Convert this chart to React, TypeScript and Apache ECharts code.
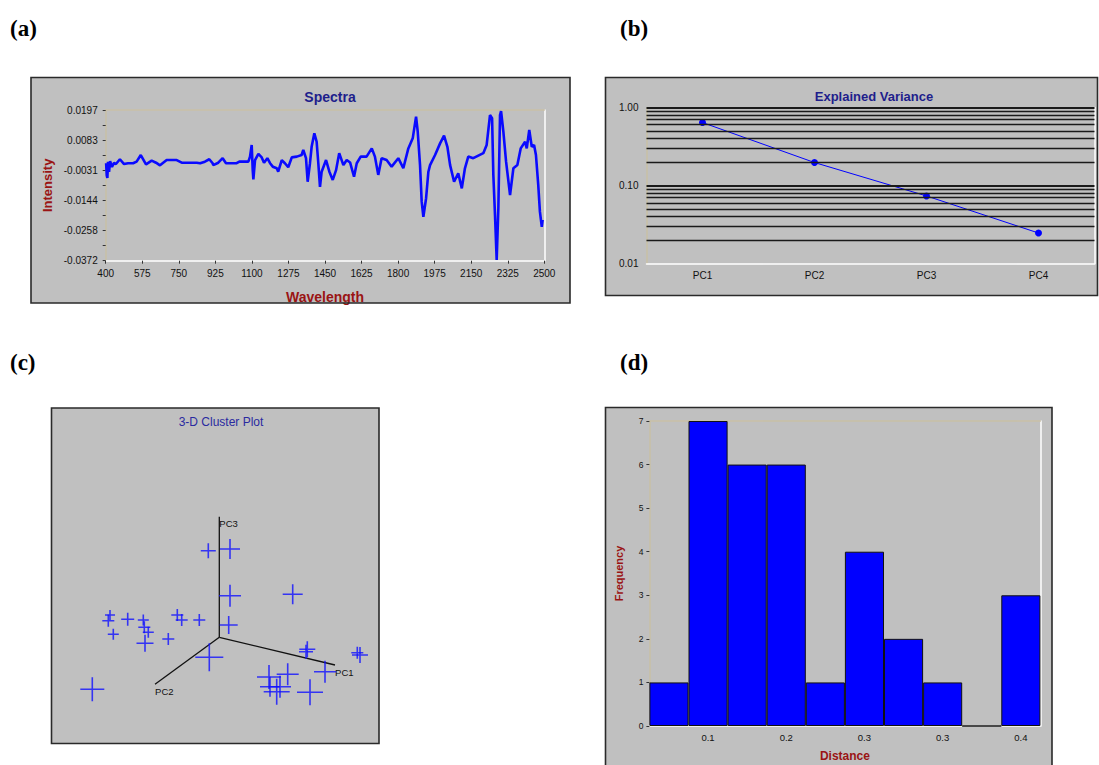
import React, { useEffect, useRef } from "react";
import * as echarts from "echarts";

// ---------- (a) Spectra ----------
const wavelengths = [
  402, 405, 408, 411, 416, 421, 430, 440, 449, 468, 488, 507, 531, 548, 568, 593, 620, 641, 660, 692,
  740, 764, 836, 852, 875, 896, 912, 915, 939, 960, 976, 1027, 1040, 1083, 1091, 1099, 1104, 1107, 1115,
  1131, 1147, 1158, 1174, 1187, 1200, 1219, 1226, 1243, 1258, 1274, 1291, 1315, 1338, 1346, 1359, 1367,
  1378, 1386, 1399, 1410, 1418, 1426, 1434, 1455, 1471, 1487, 1503, 1518, 1538, 1554, 1570, 1589, 1602,
  1621, 1649, 1674, 1689, 1705, 1721, 1745, 1769, 1801, 1825, 1849, 1870, 1886, 1894, 1905, 1913, 1921,
  1934, 1945, 1953, 1977, 2001, 2020, 2036, 2049, 2068, 2088, 2105, 2120, 2136, 2160, 2208, 2224, 2240,
  2250, 2256, 2264, 2272, 2280, 2288, 2293, 2304, 2317, 2336, 2352, 2371, 2387, 2408, 2416, 2428, 2440,
  2451, 2460, 2471, 2479, 2488, 2492,
];
const intensities = [
  -0.0004, -0.005, -0.006, 0.0001, -0.0037, 0.0004, -0.0018, -0.0003, -0.0007, 0.0011, -0.0007, -0.0004,
  -0.0004, 0.0002, 0.0027, -0.0008, 0.0006, -0.0002, -0.0012, 0.0008, 0.0008, -0.0002, -0.0002, -0.0004,
  0.0002, 0.0011, -0.0004, -0.0011, -0.0002, 0.0015, -0.0004, -0.0004, 0.0002, 0.0002, 0.0021, 0.0065,
  -0.003, -0.0065, 0.0008, 0.0031, 0.0018, -0.0002, 0.0015, -0.0004, -0.0017, -0.0023, -0.0036, 0.0008,
  -0.0004, -0.0019, 0.0018, 0.0021, 0.0027, 0.0046, 0.0015, -0.0074, -0.0004, 0.0058, 0.0109, 0.0077,
  -0.0004, -0.0093, -0.0036, 0.0008, -0.0036, -0.0067, -0.003, 0.0034, -0.0011, 0.0008, -0.0001, -0.0055,
  -0.0004, 0.0021, 0.0021, 0.0052, 0.0021, -0.0048, 0.0015, 0.0008, -0.0017, 0.0015, -0.0023, 0.0052,
  0.009, 0.0172, 0.0115, -0.0011, -0.0149, -0.0206, -0.0136, -0.0036, -0.0011, 0.0027, 0.0071, 0.01,
  0.0058, -0.0011, -0.0074, -0.0042, -0.0099, -0.0023, 0.0021, 0.0015, 0.0034, 0.0065, 0.0178, 0.0166,
  -0.0048, -0.02, -0.0369, -0.0174, 0.0178, 0.0193, 0.0115, 0.0002, -0.0124, -0.0023, -0.0011, 0.0052,
  0.0077, 0.0052, 0.0122, 0.0058, 0.0065, 0.0027, -0.0086, -0.0187, -0.0244, -0.0218,
];
const intensityLabelTicks = [-0.0372, -0.0258, -0.0144, -0.0031, 0.0083, 0.0197];
const intensityAllTicks = [
  -0.0372, -0.0315, -0.0258, -0.0201, -0.0144, -0.0087, -0.0031, 0.0026, 0.0083, 0.014, 0.0197,
];
const wavelengthTicks = [400, 575, 750, 925, 1100, 1275, 1450, 1625, 1800, 1975, 2150, 2325, 2500];

// ---------- (b) Explained Variance ----------
const pcNames = ["PC1", "PC2", "PC3", "PC4"];
const explainedVariance = [0.64, 0.197, 0.0736, 0.0247];
const varianceGridLines = [
  0.02, 0.03, 0.04, 0.05, 0.06, 0.07, 0.08, 0.09, 0.1, 0.2, 0.3, 0.4, 0.5, 0.6, 0.7, 0.8, 0.9, 1.0,
];

// ---------- (c) 3-D Cluster Plot (projected screen coordinates) ----------
const clusterX = [
  156.3, 178, 178, 240.7, 176.7, 58, 56.3, 75.7, 91.3, 92.3, 96.3, 61.3, 93, 116.3, 125.3, 129.7, 147.3,
  157.3, 40.3, 255.3, 254, 308, 305.3, 273, 217, 218, 228, 235.7, 224.7, 258,
];
const clusterY = [
  192.3, 194, 147.3, 148.7, 118, 128, 122.3, 123.7, 123, 115.7, 110.7, 108.7, 99.7, 104, 128, 123, 123,
  85.7, 53.7, 93.7, 91.3, 88, 90.3, 71.3, 66, 56.3, 56.3, 68.7, 51.3, 50.7,
];
const clusterSize = [
  15, 20, 22, 20, 18, 10, 12, 13, 11, 12, 11, 11, 17, 12, 12, 12, 12, 28, 24, 16, 14, 16, 12, 22, 24, 20,
  22, 22, 26, 26,
];
const axisOrigin = [167.3, 105.7];
const axisNames = ["PC1", "PC2", "PC3"];
const axisEndX = [283, 103, 167.3];
const axisEndY = [78, 58.7, 226.3];

// ---------- (d) Histogram ----------
const distanceLabels = ["", "0.1", "", "0.2", "", "0.3", "", "0.3", "", "0.4"];
const frequencies = [1, 7, 6, 6, 1, 4, 2, 1, 0, 3];

const FONT = "'Liberation Sans', Arial, Helvetica, sans-serif";
const TITLE_COLOR = "#1e1e8c";
const NAME_COLOR = "#9a1414";
const PANEL_BG = "#c0c0c0";
const FRAME_DARK = "#c9c0a6";

export default function App() {
  const ref = useRef<HTMLDivElement>(null);

  useEffect(() => {
    if (!ref.current) return;
    const chart = echarts.init(ref.current, undefined, { renderer: "svg" });

    const boxes = [
      { x: 31, y: 77.5, w: 539, h: 225.5 },
      { x: 605.5, y: 77.5, w: 492, h: 218 },
      { x: 51.5, y: 408, w: 327.5, h: 335.5 },
      { x: 605.5, y: 407.5, w: 446.5, h: 380 },
    ];
    const panelLabels = [
      { t: "(a)", x: 10, y: 28 },
      { t: "(b)", x: 620, y: 28 },
      { t: "(c)", x: 10, y: 362 },
      { t: "(d)", x: 620, y: 362 },
    ];

    const graphic: any[] = [];
    boxes.forEach((b) => {
      graphic.push({
        type: "rect",
        z: -100,
        shape: { x: b.x, y: b.y, width: b.w, height: b.h },
        style: { fill: PANEL_BG, stroke: "none" },
        silent: true,
      });
      graphic.push({
        type: "rect",
        z: 100,
        shape: { x: b.x, y: b.y, width: b.w, height: b.h },
        style: { fill: "none", stroke: "#2a2a2a", lineWidth: 1.6 },
        silent: true,
      });
    });
    panelLabels.forEach((p) => {
      graphic.push({
        type: "text",
        x: p.x,
        y: p.y,
        style: {
          text: p.t,
          font: "bold 23px 'Liberation Serif', 'Times New Roman', serif",
          fill: "#000",
          verticalAlign: "middle",
          align: "left",
        },
      });
    });

    const clusterData = clusterX.map((x, i) => [x, clusterY[i], clusterSize[i]]);
    const axisSeries = axisNames.map((name, i) => ({
      type: "line",
      xAxisIndex: 3,
      yAxisIndex: 4,
      symbol: "none",
      lineStyle: { color: "#111", width: 1.3 },
      data: [
        axisOrigin,
        {
          value: [axisEndX[i], axisEndY[i]],
          symbol: "circle",
          symbolSize: 0.1,
          label: {
            show: true,
            formatter: name,
            position: "right",
            distance: 0,
            offset: [0, 7],
            fontSize: 9.5,
            fontFamily: FONT,
            color: "#111",
          },
        },
      ],
      z: 3,
    }));

    const option: any = {
      animation: false,
      backgroundColor: "#ffffff",
      textStyle: { fontFamily: FONT },
      graphic,
      title: [
        {
          text: "Spectra",
          left: 325,
          top: 85,
          textAlign: "center",
          textStyle: { fontSize: 14, fontWeight: "bold", color: TITLE_COLOR, fontFamily: FONT },
        },
        {
          text: "Explained Variance",
          left: 869,
          top: 85,
          textAlign: "center",
          textStyle: { fontSize: 13, fontWeight: "bold", color: TITLE_COLOR, fontFamily: FONT },
        },
        {
          text: "3-D Cluster Plot",
          left: 216,
          top: 411,
          textAlign: "center",
          textStyle: { fontSize: 12, fontWeight: "normal", color: "#2a2aa0", fontFamily: FONT },
        },
      ],
      grid: [
        { left: 105.7, top: 110, width: 438.6, height: 150.7 },
        { left: 646.5, top: 107.4, width: 448, height: 156.3 },
        { left: 52, top: 409, width: 326, height: 334 },
        { left: 649.4, top: 421, width: 391, height: 305 },
      ],
      xAxis: [
        {
          gridIndex: 0,
          type: "value",
          min: 400,
          max: 2500,
          name: "Wavelength",
          nameLocation: "middle",
          nameGap: 29,
          nameTextStyle: { color: NAME_COLOR, fontWeight: "bold", fontSize: 14, fontFamily: FONT },
          axisLine: { onZero: false, lineStyle: { color: "#ffffff", width: 1.5 } },
          axisTick: {
            customValues: wavelengthTicks,
            length: 3,
            lineStyle: { color: "#333" },
          },
          axisLabel: {
            customValues: wavelengthTicks,
            formatter: (v: number) => String(v),
            fontSize: 10,
            color: "#111",
            margin: 8,
            fontFamily: FONT,
          },
          splitLine: { show: false },
        },
        {
          gridIndex: 0,
          type: "value",
          position: "top",
          min: 0,
          max: 1,
          axisLine: { show: true, onZero: false, lineStyle: { color: FRAME_DARK, width: 1.5 } },
          axisTick: { show: false },
          axisLabel: { show: false },
          splitLine: { show: false },
        },
        {
          gridIndex: 1,
          type: "category",
          data: pcNames,
          boundaryGap: true,
          axisLine: { onZero: false, lineStyle: { color: "#ffffff", width: 1.5 } },
          axisTick: { alignWithLabel: true, length: 3, lineStyle: { color: "#333" } },
          axisLabel: { fontSize: 10, color: "#111", margin: 7, fontFamily: FONT },
          splitLine: { show: false },
        },
        {
          gridIndex: 2,
          type: "value",
          min: 0,
          max: 326,
          show: false,
        },
        {
          gridIndex: 3,
          type: "category",
          data: distanceLabels.map((_, i) => "bin" + (i + 1)),
          boundaryGap: true,
          name: "Distance",
          nameLocation: "middle",
          nameGap: 24,
          nameTextStyle: { color: NAME_COLOR, fontWeight: "bold", fontSize: 12, fontFamily: FONT },
          axisLine: { onZero: false, lineStyle: { color: "#ffffff", width: 1.5 } },
          axisTick: {
            alignWithLabel: true,
            interval: (i: number) => i % 2 === 0,
            length: 2,
            lineStyle: { color: "#333" },
          },
          axisLabel: {
            interval: 0,
            formatter: (_v: string, i: number) => distanceLabels[i],
            fontSize: 9.5,
            color: "#111",
            margin: 6,
            fontFamily: FONT,
          },
          splitLine: { show: false },
        },
        {
          gridIndex: 3,
          type: "value",
          position: "top",
          min: 0,
          max: 1,
          axisLine: { show: true, onZero: false, lineStyle: { color: FRAME_DARK, width: 1.5 } },
          axisTick: { show: false },
          axisLabel: { show: false },
          splitLine: { show: false },
        },
      ],
      yAxis: [
        {
          gridIndex: 0,
          type: "value",
          min: -0.0372,
          max: 0.0197,
          name: "Intensity",
          nameLocation: "middle",
          nameGap: 52,
          nameTextStyle: { color: NAME_COLOR, fontWeight: "bold", fontSize: 13, fontFamily: FONT },
          axisLine: { show: true, onZero: false, lineStyle: { color: FRAME_DARK, width: 1.5 } },
          axisTick: {
            show: true,
            customValues: intensityAllTicks,
            length: 3,
            lineStyle: { color: "#333" },
          },
          axisLabel: {
            customValues: intensityLabelTicks,
            formatter: (v: number) => v.toFixed(4),
            fontSize: 10,
            color: "#111",
            margin: 8,
            fontFamily: FONT,
          },
          splitLine: { show: false },
        },
        {
          gridIndex: 0,
          type: "value",
          position: "right",
          min: 0,
          max: 1,
          axisLine: { show: true, onZero: false, lineStyle: { color: "#ffffff", width: 1.5 } },
          axisTick: { show: false },
          axisLabel: { show: false },
          splitLine: { show: false },
        },
        {
          gridIndex: 1,
          type: "log",
          logBase: 10,
          min: 0.01,
          max: 1,
          axisLine: { show: true, onZero: false, lineStyle: { color: FRAME_DARK, width: 1.5 } },
          axisTick: { show: false },
          axisLabel: {
            formatter: (v: number) => v.toFixed(2),
            fontSize: 10,
            color: "#111",
            margin: 8,
            fontFamily: FONT,
          },
          splitLine: { show: false },
        },
        {
          gridIndex: 1,
          type: "value",
          position: "right",
          min: 0,
          max: 1,
          axisLine: { show: true, onZero: false, lineStyle: { color: "#ffffff", width: 1.5 } },
          axisTick: { show: false },
          axisLabel: { show: false },
          splitLine: { show: false },
        },
        {
          gridIndex: 2,
          type: "value",
          min: 0,
          max: 334,
          show: false,
        },
        {
          gridIndex: 3,
          type: "value",
          min: 0,
          max: 7,
          interval: 1,
          name: "Frequency",
          nameLocation: "middle",
          nameGap: 25,
          nameTextStyle: { color: NAME_COLOR, fontWeight: "bold", fontSize: 11, fontFamily: FONT },
          axisLine: { show: true, onZero: false, lineStyle: { color: FRAME_DARK, width: 1.5 } },
          axisTick: { show: true, length: 3, lineStyle: { color: "#333" } },
          axisLabel: { fontSize: 8.5, color: "#111", margin: 6, fontFamily: FONT },
          splitLine: { show: false },
        },
        {
          gridIndex: 3,
          type: "value",
          position: "right",
          min: 0,
          max: 1,
          axisLine: { show: true, onZero: false, lineStyle: { color: "#ffffff", width: 1.5 } },
          axisTick: { show: false },
          axisLabel: { show: false },
          splitLine: { show: false },
        },
      ],
      series: [
        {
          type: "line",
          xAxisIndex: 0,
          yAxisIndex: 0,
          data: wavelengths.map((w, i) => [w, intensities[i]]),
          symbol: "none",
          lineStyle: { color: "#0a0aff", width: 2.6 },
          z: 3,
        },
        {
          type: "line",
          xAxisIndex: 2,
          yAxisIndex: 2,
          data: explainedVariance,
          symbol: "circle",
          symbolSize: 7,
          itemStyle: { color: "#0000ff" },
          lineStyle: { color: "#0000ff", width: 1 },
          markLine: {
            silent: true,
            symbol: "none",
            label: { show: false },
            lineStyle: { color: "#1a1a1a", width: 1.4, type: "solid" },
            data: varianceGridLines.map((v) => ({
              yAxis: v,
              lineStyle: { width: v === 1 || v === 0.1 ? 2 : 1.4 },
            })),
          },
          z: 3,
        },
        ...axisSeries,
        {
          type: "scatter",
          xAxisIndex: 3,
          yAxisIndex: 4,
          data: clusterData,
          symbol: "path://M5,0L5,10M0,5L10,5",
          symbolSize: (v: number[]) => v[2],
          itemStyle: { color: "none", borderColor: "#1010ff", borderWidth: 1.6 },
          z: 4,
        },
        {
          type: "bar",
          xAxisIndex: 4,
          yAxisIndex: 5,
          data: frequencies,
          barCategoryGap: "0%",
          itemStyle: { color: "#0000ff", borderColor: "#111", borderWidth: 1 },
          z: 3,
        },
      ],
    };

    chart.setOption(option);
    return () => chart.dispose();
  }, []);

  return (
    <div
      ref={ref}
      style={{ position: "fixed", left: 0, top: 0, width: 1099, height: 765 }}
    />
  );
}
